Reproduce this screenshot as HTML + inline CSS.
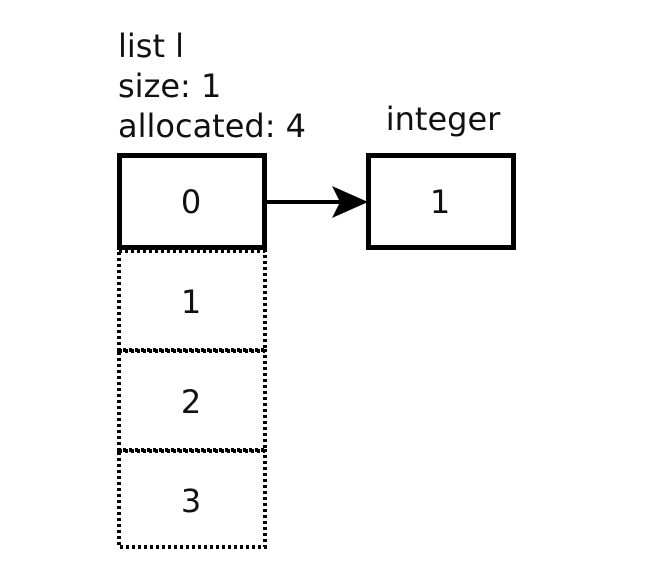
<!DOCTYPE html>
<html><head><meta charset="utf-8"><style>
html,body{margin:0;padding:0;background:#fff;}
svg{display:block;}
text{font-family:"DejaVu Sans",sans-serif;font-size:32px;fill:#111;}
</style></head><body>
<svg width="646" height="570" viewBox="0 0 646 570">
<text x="118" y="57">list l</text>
<text x="118" y="97">size: 1</text>
<text x="118" y="137">allocated: 4</text>
<text x="443" y="130" text-anchor="middle">integer</text>
<g fill="none" stroke="#000" stroke-width="4" stroke-dasharray="3,3" shape-rendering="crispEdges">
<rect x="119" y="251" width="146" height="99"/>
<rect x="119" y="351" width="146" height="99"/>
<rect x="119" y="451" width="146" height="96"/>
</g>
<rect x="119.5" y="155.5" width="145" height="92" fill="#fff" stroke="#000" stroke-width="5"/>
<rect x="368.5" y="155.5" width="145" height="92" fill="#fff" stroke="#000" stroke-width="5"/>
<line x1="267" y1="202" x2="340" y2="202" stroke="#000" stroke-width="4"/>
<path d="M332,186 L368,202 L332,218 L340,202 Z" fill="#000"/>
<text x="191" y="213" text-anchor="middle">0</text>
<text x="191" y="313" text-anchor="middle">1</text>
<text x="191" y="413" text-anchor="middle">2</text>
<text x="191" y="512" text-anchor="middle">3</text>
<text x="440" y="213" text-anchor="middle">1</text>
</svg>
</body></html>
